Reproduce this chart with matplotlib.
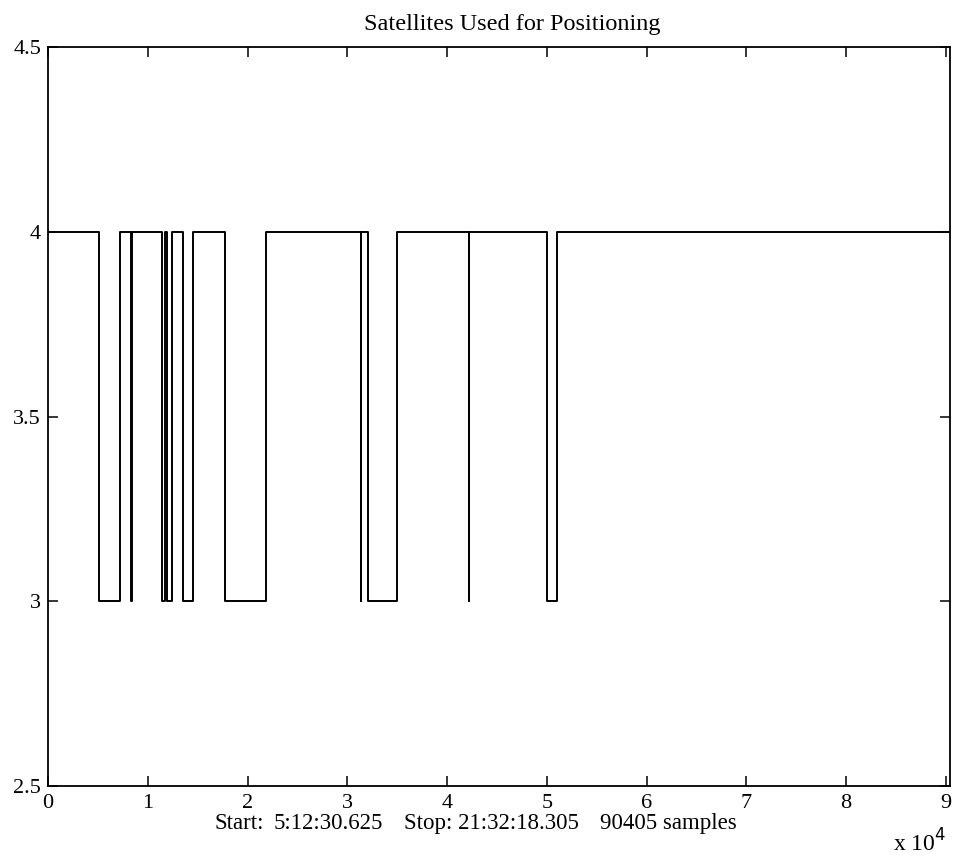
import matplotlib
matplotlib.use("Agg")
import matplotlib.pyplot as plt
import numpy as np

# Sample index where each level starts, and the level held from there on
change_samples = [0, 5085, 7190, 8364, 8380, 11433, 11704, 11975, 12436,
                  13509, 14512, 17721, 21803, 31331, 31347, 32093, 35002,
                  42192, 42208, 49985, 50988]
levels = [4, 3, 4, 3, 4, 3, 4, 3, 4,
          3, 4, 3, 4, 3, 4, 3, 4,
          3, 4, 3, 4]
n_samples = 90405

x_ticks = [0, 10000, 20000, 30000, 40000, 50000, 60000, 70000, 80000, 90000]
x_tick_labels = ["0", "1", "2", "3", "4", "5", "6", "7", "8", "9"]
y_ticks = [2.5, 3, 3.5, 4, 4.5]
y_tick_labels = ["2.5", "3", "3.5", "4", "4.5"]

title = "Satellites Used for Positioning"
xlabel_parts = ["Start:", "5:12:30.625", "Stop: 21:32:18.305", "90405 samples"]

plt.rcParams['font.family'] = ['Liberation Serif', 'DejaVu Serif']

W, H = 954, 857
fig = plt.figure(figsize=(W / 100, H / 100), dpi=100)
ax = fig.add_axes([0.0503, 0.0828, 0.9455, 0.8624])

xs = list(change_samples) + [n_samples]
ys = list(levels) + [levels[-1]]
ax.step(xs, ys, where='post', color='black', linewidth=1.4)

ax.set_xlim(0, n_samples)
ax.set_ylim(2.5, 4.5)
ax.set_xticks(x_ticks)
ax.set_xticklabels(x_tick_labels)
ax.set_yticks(y_ticks)
ax.set_yticklabels(y_tick_labels)
ax.tick_params(direction='in', top=True, right=True, length=7, width=1.1,
               labelsize=16)
ax.tick_params(axis='x', pad=6)
ax.tick_params(axis='y', pad=5)
for s in ax.spines.values():
    s.set_linewidth(1.3)

fig.text(512 / W, 1 - 30 / H, title, fontsize=17.5, ha='center', va='baseline')

part_x = [215, 274, 404, 600]
for px, txt in zip(part_x, xlabel_parts):
    fig.text(px / W, 1 - 829 / H, txt, fontsize=16.5, ha='left', va='baseline')

fig.text(893 / W, 1 - 852 / H, r"x 10$^4$", fontsize=17, ha='left', va='baseline')

fig.savefig("out.png", dpi=100)
